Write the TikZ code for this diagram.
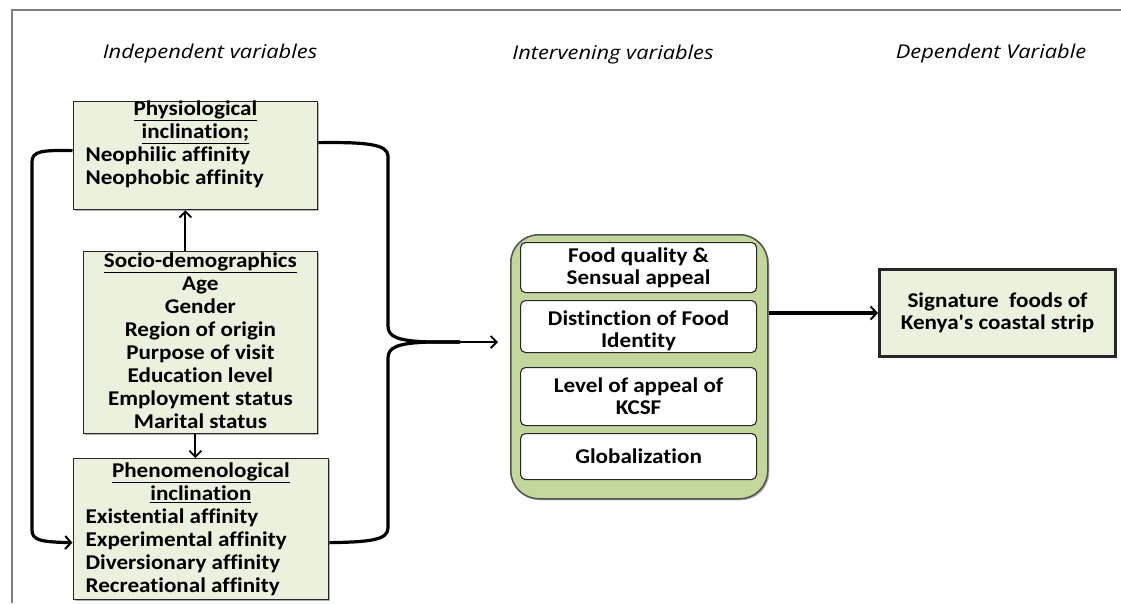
\documentclass[tikz,border=0pt]{standalone}
\usepackage{fontspec}
\usetikzlibrary{arrows.meta,shadows,calc}
\newfontfamily\boxfont{Carlito}[FakeStretch=1.1,Ligatures={TeXOff,CommonOff}]
\newfontfamily\titlefont{Open Sans}[FakeStretch=1.15]
\definecolor{boxfill}{HTML}{EBF1DE}
\definecolor{grpfill}{HTML}{C3D69B}
\definecolor{framegray}{HTML}{7F7F7F}
\definecolor{edge}{HTML}{262626}
\newcommand\CLine[1]{\makebox[\linewidth][c]{#1}\par}
\newcommand\LLine[1]{\makebox[\linewidth][l]{\hspace*{12.5pt}#1}\par}
\newcommand\TopLine[2]{\makebox[\linewidth][c]{\rule{0pt}{#1}\smash{#2}}\par}
\newcommand\BoxText[3]{\parbox[t][#2][t]{#1}{\boxfont\bfseries\fontsize{21}{23}\selectfont #3}}
\begin{document}
\begin{tikzpicture}[x=1pt,y=-1pt,
  boxshadow/.style={drop shadow={shadow xshift=1.5pt,shadow yshift=-1.5pt,opacity=.3,fill=black}},
  varbox/.style={draw=edge,line width=1.3pt,fill=boxfill,inner sep=0pt,anchor=north west,boxshadow},
  grpbox/.style={draw=edge!80,line width=1.5pt,fill=grpfill,rounded corners=28pt,anchor=north west,minimum width=257pt,minimum height=264pt,inner sep=0pt,boxshadow},
  itembox/.style={draw=edge,line width=1.1pt,fill=white,rounded corners=5pt,anchor=north west,minimum width=236pt,inner sep=0pt,align=center,font=\boxfont\bfseries\fontsize{21}{22}\selectfont},
  title/.style={font=\titlefont\itshape\fontsize{19}{22}\selectfont,anchor=center},
  link/.style={line width=3.2pt,draw=black},
  thinlink/.style={line width=2pt,draw=black,-{Straight Barb[length=6pt,width=12pt,line width=1.8pt]}},
  tipin/.style={-{Straight Barb[length=6pt,width=13pt,line width=2pt]}}
]
\useasboundingbox (0,0) rectangle (1121,603);
\draw[framegray,line width=1.3pt] (1121,10) -- (12,10) -- (12,603);

\node[title] (tind) at (210,54) {Independent variables};
\node[title] (tint) at (613,55) {Intervening variables};
\node[title] (tdep) at (991,54) {Dependent Variable};

\node[varbox] (physio) at (72.5,101) {\BoxText{244.5pt}{108pt}{\TopLine{14pt}{\underline{Physiological}}\CLine{\underline{inclination;}}\LLine{Neophilic affinity}\LLine{Neophobic affinity}}};
\node[varbox] (socio) at (82.5,251) {\BoxText{234.5pt}{182pt}{\TopLine{16pt}{\underline{Socio-demographics}}\CLine{Age}\CLine{Gender}\CLine{Region of origin}\CLine{Purpose of visit}\CLine{Education level}\CLine{Employment status}\CLine{Marital status}}};
\node[varbox] (pheno) at (72.5,458) {\BoxText{255.5pt}{141pt}{\TopLine{19pt}{\underline{Phenomenological}}\CLine{\underline{inclination}}\LLine{Existential affinity}\LLine{Experimental affinity}\LLine{Diversionary affinity}\LLine{Recreational affinity}}};

\node[grpbox] (group) at (510,234) {};
\node[itembox,minimum height=50pt] (q1) at (520,242) {Food quality \&\\Sensual appeal};
\node[itembox,minimum height=52pt] (q2) at (520,300) {\rule{0pt}{24pt}Distinction of Food\\Identity};
\node[itembox,minimum height=58pt] (q3) at (520,367) {Level of appeal of\\KCSF};
\node[itembox,minimum height=46pt] (q4) at (520,433) {Globalization};

\node[varbox,line width=3pt,minimum width=236pt,minimum height=87pt,align=center,font=\boxfont\bfseries\fontsize{21}{22}\selectfont] (sig) at (878,268) {Signature\ \ foods of\\Kenya's coastal strip};

\coordinate (upx) at ($(socio.north)+(-15,0)$);
\draw[thinlink] (upx) -- (upx |- physio.south);
\coordinate (dnx) at ($(socio.south)+(-5,0)$);
\draw[thinlink] (dnx) -- (dnx |- pheno.north);

\draw[link,tipin] ([yshift=5pt]physio.west) .. controls (42,150) and (32,151) .. (32,162) -- (32,530) .. controls (32,540) and (40,542) .. ([yshift=-13.5pt]pheno.west);

\coordinate (cusp) at (460,342);
\draw[link] ([yshift=13pt]physio.east) .. controls (365,142) and (388,144) .. (388,156) -- (388,326) .. controls (388,337) and (398,341) .. (430,342) -- (cusp);
\draw[link] ([yshift=-13.5pt]pheno.east) .. controls (370,542) and (388,540) .. (388,528) -- (388,358) .. controls (388,347) and (398,343) .. (430,342) -- (cusp);
\draw[thinlink] (cusp) -- ($(cusp -| group.west)+(-12,0)$);

\draw[link,tipin] (group.east |- sig.west) -- (sig.west);
\end{tikzpicture}
\end{document}
